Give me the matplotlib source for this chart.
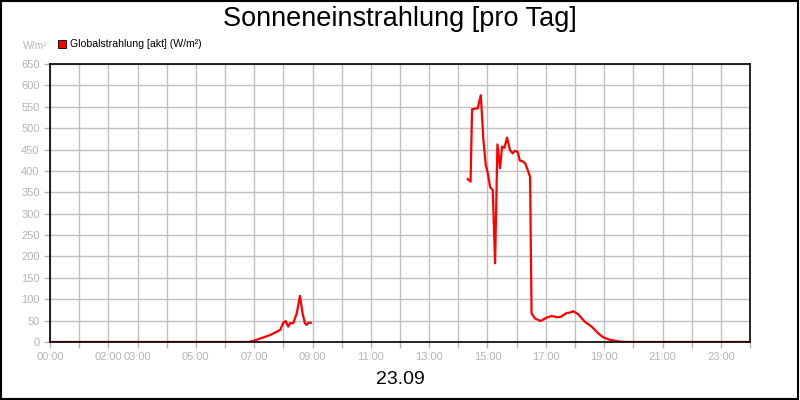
import numpy as np
import matplotlib.pyplot as plt
from matplotlib.patches import Rectangle

plt.rcParams['font.family'] = ['Liberation Sans', 'DejaVu Sans']

# hours of day and irradiance (W/m²); NaN marks the gap without data
hours = [0.0, 6.8, 6.95, 7.2, 7.54, 7.89, 8.0, 8.08, 8.17, 8.23, 8.34, 8.46, 8.57,
         8.66, 8.74, 8.8, 8.86, 8.94,
         11.0,
         14.32, 14.42, 14.47, 14.6, 14.66, 14.77, 14.86, 14.94, 15.0, 15.09, 15.18,
         15.26, 15.34, 15.43, 15.5, 15.58, 15.67, 15.77, 15.86, 15.94, 16.03, 16.11,
         16.19, 16.29, 16.37, 16.46, 16.51, 16.63, 16.82, 17.03, 17.2, 17.37, 17.52,
         17.69, 17.83, 17.94, 18.11, 18.34, 18.57, 18.8, 18.97, 19.2, 19.54, 19.77, 24.0]
global_rad = [0, 0, 2, 8, 16, 28, 45, 49, 36, 44, 44, 67, 108,
              67, 44, 40, 45, 45,
              np.nan,
              381, 375, 544, 546, 546, 577, 472, 414, 398, 362, 355,
              184, 462, 406, 457, 454, 478, 449, 441, 447, 445, 424,
              423, 418, 404, 386, 67, 55, 49, 57, 61, 58, 59,
              67, 69, 72, 65, 47, 36, 20, 11, 5, 1, 0, 0]

tick_hours = list(range(25))
tick_labels = {0: '00:00', 2: '02:00', 3: '03:00', 5: '05:00', 7: '07:00', 9: '09:00',
               11: '11:00', 13: '13:00', 15: '15:00', 17: '17:00', 19: '19:00',
               21: '21:00', 23: '23:00'}

grey = '#b4b4b4'

fig = plt.figure(figsize=(8, 4), dpi=100)
ax = fig.add_axes([50 / 800, 58 / 400, 700 / 800, 278 / 400])

ax.plot(hours, global_rad, color='#ff0000', lw=1.6, solid_joinstyle='round')

ax.set_xlim(0, 24)
ax.set_ylim(0, 650)
ax.set_xticks(tick_hours)
ax.set_xticklabels([tick_labels.get(h, '') for h in tick_hours])
ax.set_yticks(range(0, 651, 50))
ax.grid(True, color='#c0c0c0', lw=1)
ax.set_axisbelow(True)
ax.tick_params(colors=grey, labelcolor=grey, labelsize=8, length=4, width=1)
for s in ax.spines.values():
    s.set_color('black')
    s.set_linewidth(1.2)

fig.text(0.5, 0.953, 'Sonneneinstrahlung [pro Tag]', ha='center', va='center', fontsize=19.5)
fig.text(0.5, 0.05, '23.09', ha='center', va='center', fontsize=14)
fig.text(48 / 800, 1 - 46 / 400, 'W/m²', ha='right', va='center', fontsize=7.5, color=grey)

fig.patches.append(Rectangle((58 / 800, 1 - 48 / 400), 8 / 800, 8 / 400,
                             transform=fig.transFigure, facecolor='#ff0000',
                             edgecolor='black', lw=0.6))
fig.text(70 / 800, 1 - 44 / 400, 'Globalstrahlung [akt] (W/m²)', ha='left', va='center',
         fontsize=7.6, color='black')

fig.patches.append(Rectangle((0.001, 0.002), 0.997, 0.995, transform=fig.transFigure,
                             fill=False, edgecolor='black', lw=1.5))

fig.savefig('out.png', dpi=100)
